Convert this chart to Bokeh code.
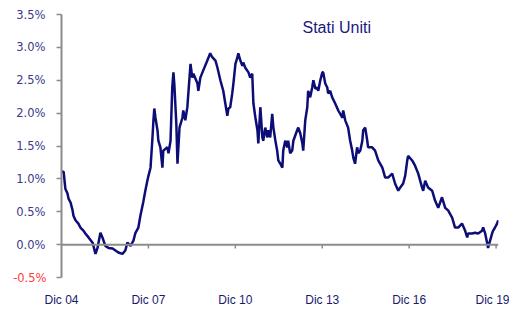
from bokeh.plotting import figure
from bokeh.models import (Range1d, FixedTicker, PrintfTickFormatter, Span, Label,
                          ColumnDataSource, LinearAxis)
from bokeh.embed import file_html
from bokeh.resources import INLINE

# ---- data (decimal year, yield %) ----
dates = [2004.92, 2004.99, 2005.05, 2005.12, 2005.16, 2005.23, 2005.30, 2005.33, 2005.40, 2005.50,
         2005.57, 2005.68, 2005.74, 2005.85, 2005.99, 2006.09, 2006.16, 2006.26, 2006.33, 2006.43,
         2006.54, 2006.68, 2006.78, 2006.88, 2007.02, 2007.12, 2007.19, 2007.30, 2007.40, 2007.47,
         2007.57, 2007.64, 2007.74, 2007.81, 2007.88, 2007.92, 2007.99, 2008.05, 2008.09, 2008.12,
         2008.16, 2008.23, 2008.26, 2008.33, 2008.40, 2008.43, 2008.57, 2008.61, 2008.68, 2008.74,
         2008.78, 2008.81, 2008.88, 2008.92, 2008.99, 2009.09, 2009.12, 2009.19, 2009.26, 2009.37,
         2009.43, 2009.47, 2009.61, 2009.64, 2009.71, 2009.81, 2009.95, 2010.05, 2010.12, 2010.23,
         2010.30, 2010.40, 2010.50, 2010.57, 2010.64, 2010.68, 2010.74, 2010.81, 2010.85, 2010.92,
         2010.99, 2011.02, 2011.09, 2011.16, 2011.19, 2011.26, 2011.37, 2011.43, 2011.50, 2011.54,
         2011.61, 2011.68, 2011.71, 2011.78, 2011.85, 2011.88, 2011.95, 2012.02, 2012.05, 2012.12,
         2012.19, 2012.23, 2012.30, 2012.36, 2012.40, 2012.47, 2012.54, 2012.57, 2012.64, 2012.71,
         2012.74, 2012.81, 2012.88, 2012.92, 2013.05, 2013.09, 2013.16, 2013.23, 2013.26, 2013.33,
         2013.40, 2013.43, 2013.50, 2013.57, 2013.61, 2013.68, 2013.74, 2013.78, 2013.85, 2013.92,
         2013.95, 2014.02, 2014.09, 2014.12, 2014.19, 2014.26, 2014.36, 2014.47, 2014.61, 2014.64,
         2014.71, 2014.81, 2014.88, 2014.95, 2014.99, 2015.05, 2015.12, 2015.16, 2015.23, 2015.30,
         2015.33, 2015.40, 2015.47, 2015.50, 2015.64, 2015.74, 2015.85, 2015.99, 2016.09, 2016.19,
         2016.33, 2016.43, 2016.54, 2016.61, 2016.71, 2016.78, 2016.85, 2016.88, 2017.02, 2017.12,
         2017.23, 2017.36, 2017.40, 2017.47, 2017.57, 2017.71, 2017.81, 2017.92, 2018.05, 2018.16,
         2018.26, 2018.40, 2018.50, 2018.61, 2018.74, 2018.85, 2018.92, 2018.95, 2019.09, 2019.19,
         2019.30, 2019.43, 2019.47, 2019.54, 2019.61, 2019.64, 2019.71, 2019.78, 2019.81, 2019.88,
         2019.95, 2019.99]

values = [1.11, 1.11, 0.85, 0.78, 0.70, 0.64, 0.52, 0.44, 0.37, 0.32,
          0.26, 0.21, 0.17, 0.11, 0.03, -0.14, -0.05, 0.18, 0.11, -0.02,
          -0.05, -0.06, -0.09, -0.12, -0.14, -0.09, 0.03, -0.02, 0.06, 0.18,
          0.26, 0.44, 0.65, 0.82, 0.97, 1.05, 1.17, 1.58, 1.89, 2.07,
          1.93, 1.74, 1.58, 1.48, 1.17, 1.43, 1.48, 1.39, 1.58, 2.39,
          2.62, 2.45, 1.84, 1.23, 1.78, 1.93, 2.04, 1.89, 2.09, 2.75,
          2.54, 2.60, 2.45, 2.34, 2.54, 2.65, 2.80, 2.91, 2.85, 2.80,
          2.69, 2.50, 2.34, 2.15, 1.96, 2.07, 2.09, 2.30, 2.45, 2.75,
          2.85, 2.91, 2.80, 2.72, 2.77, 2.69, 2.62, 2.54, 2.60, 2.15,
          1.93, 1.74, 1.54, 2.09, 1.63, 1.58, 1.78, 1.63, 1.74, 1.63,
          1.99, 1.78, 1.58, 1.43, 1.28, 1.23, 1.17, 1.43, 1.58, 1.48,
          1.58, 1.39, 1.43, 1.58, 1.74, 1.78, 1.69, 1.54, 1.43, 1.89,
          2.09, 2.34, 2.24, 2.39, 2.50, 2.37, 2.39, 2.34, 2.50, 2.62,
          2.62, 2.45, 2.39, 2.30, 2.34, 2.24, 2.15, 2.04, 1.93, 2.04,
          1.89, 1.78, 1.58, 1.43, 1.32, 1.23, 1.48, 1.39, 1.43, 1.58,
          1.74, 1.78, 1.58, 1.48, 1.48, 1.43, 1.28, 1.17, 1.02, 1.02,
          1.08, 0.93, 0.82, 0.87, 0.93, 1.05, 1.28, 1.35, 1.28, 1.20,
          1.08, 0.87, 0.82, 0.97, 0.87, 0.82, 0.67, 0.56, 0.72, 0.56,
          0.52, 0.41, 0.26, 0.26, 0.32, 0.21, 0.11, 0.17, 0.17, 0.18,
          0.17, 0.21, 0.26, 0.17, 0.02, -0.05, 0.06, 0.17, 0.21, 0.26,
          0.32, 0.37]

x_ticks = [2004.917, 2007.917, 2010.917, 2013.917, 2016.917, 2019.917]
x_labels = ["Dic 04", "Dic 07", "Dic 10", "Dic 13", "Dic 16", "Dic 19"]
y_ticks = [-0.5, 0.0, 0.5, 1.0, 1.5, 2.0, 2.5, 3.0, 3.5]
neg_tick = -0.5
title_text = "Stati Uniti"

NAVY = "#0d0d78"
GREY = "#8c8c8c"
YLAB = "#3a3a8c"
RED = "#ff3b3b"

p = figure(width=509, height=309, output_backend="svg", toolbar_location=None,
           x_range=Range1d(2004.917, 2020.0), y_range=Range1d(-0.5, 3.5),
           min_border_left=61, min_border_right=11, min_border_top=14, min_border_bottom=32)
p.outline_line_color = None
p.xgrid.visible = False
p.ygrid.visible = False
p.background_fill_color = "white"
p.border_fill_color = "white"

src = ColumnDataSource(dict(x=dates, y=values))
p.line("x", "y", source=src, line_color=NAVY, line_width=2.5)

# zero line acting as x-axis
p.add_layout(Span(location=0, dimension="width", line_color=GREY, line_width=2))
p.segment(x0=x_ticks[1:], y0=[0] * (len(x_ticks) - 1), x1=x_ticks[1:], y1=[-0.06] * (len(x_ticks) - 1),
          line_color=GREY, line_width=1.5)

# x axis (labels only)
xa = p.xaxis[0]
xa.ticker = FixedTicker(ticks=x_ticks)
xa.major_label_overrides = {t: l for t, l in zip(x_ticks, x_labels)}
xa.axis_line_color = None
xa.major_tick_line_color = None
xa.minor_tick_line_color = None
xa.major_tick_out = 0
xa.major_tick_in = 0
xa.major_label_standoff = 15
xa.major_label_text_font = "Liberation Sans"
xa.major_label_text_font_size = "12px"
xa.major_label_text_color = "#1a1a6e"

fmt = PrintfTickFormatter(format="%.1f%%")

# inner y axis: axis line, all tick marks, red label for the negative tick only
ya = p.yaxis[0]
ya.ticker = FixedTicker(ticks=y_ticks)
ya.formatter = fmt
ya.major_label_overrides = {t: "" for t in y_ticks if t != neg_tick}
ya.axis_line_color = GREY
ya.axis_line_width = 2
ya.major_tick_line_color = GREY
ya.major_tick_line_width = 1.5
ya.major_tick_out = 5
ya.major_tick_in = 0
ya.minor_tick_line_color = None
ya.major_label_standoff = 10
ya.major_label_text_font = "DejaVu Sans"
ya.major_label_text_font_size = "11.5px"
ya.major_label_text_color = RED

# outer y axis: navy labels for the other ticks, shifted back onto the same column
yb = LinearAxis(ticker=FixedTicker(ticks=y_ticks), formatter=fmt,
                major_label_overrides={neg_tick: ""})
yb.axis_line_color = None
yb.major_tick_line_color = None
yb.minor_tick_line_color = None
yb.major_tick_out = 0
yb.major_tick_in = 0
yb.major_label_standoff = -35
yb.major_label_text_font = "DejaVu Sans"
yb.major_label_text_font_size = "11.5px"
yb.major_label_text_color = YLAB
p.add_layout(yb, "left")

p.add_layout(Label(x=241, y=250, x_units="screen", y_units="screen", text=title_text,
                   text_align="left", text_baseline="alphabetic", text_font="Liberation Sans",
                   text_font_size="16px", text_color="#1a1a80"))

open("out.html", "w").write(file_html(p, INLINE))
